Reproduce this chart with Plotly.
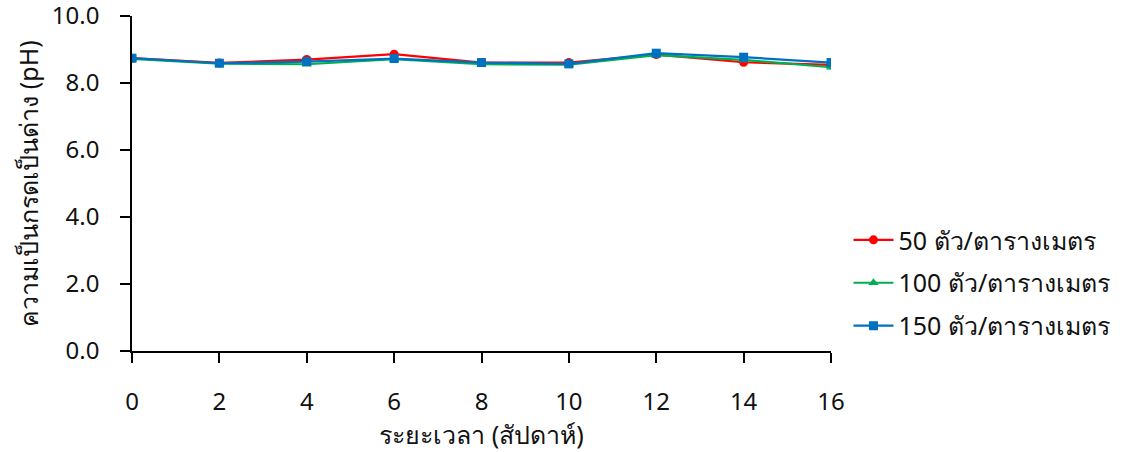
import plotly.graph_objects as go

weeks = [0, 2, 4, 6, 8, 10, 12, 14, 16]
ph_50 = [8.74, 8.60, 8.70, 8.86, 8.61, 8.61, 8.85, 8.62, 8.54]
ph_100 = [8.72, 8.58, 8.56, 8.71, 8.56, 8.55, 8.83, 8.69, 8.47]
ph_150 = [8.74, 8.59, 8.64, 8.73, 8.61, 8.57, 8.89, 8.77, 8.61]
y_ticks = [0, 2, 4, 6, 8, 10]
y_labels = ["0.0", "2.0", "4.0", "6.0", "8.0", "10.0"]
names = ["50 ตัว/ตารางเมตร", "100 ตัว/ตารางเมตร", "150 ตัว/ตารางเมตร"]
colors = ["#FF0000", "#00B050", "#0070C0"]
symbols = ["circle", "triangle-up", "square"]
legend_ids = ["legend", "legend2", "legend3"]
legend_y = [0.331, 0.203, 0.075]

font = "'Noto Sans', 'DejaVu Sans', sans-serif"
txt = "#111111"

fig = go.Figure()
for ys, n, c, s, lid in zip([ph_50, ph_100, ph_150], names, colors, symbols, legend_ids):
    fig.add_trace(go.Scatter(
        x=weeks, y=ys, name=n, mode="lines+markers",
        line=dict(color=c, width=2.2),
        marker=dict(symbol=s, size=9, color=c),
        legend=lid,
    ))

layout_legends = {}
for lid, ly in zip(legend_ids, legend_y):
    layout_legends[lid] = dict(x=1.025, y=ly, xanchor="left", yanchor="middle",
                               itemwidth=40,
                               font=dict(size=25, color=txt), bgcolor="rgba(0,0,0,0)")

fig.update_layout(
    width=1127, height=452,
    margin=dict(l=132, r=296, t=16, b=101),
    plot_bgcolor="white", paper_bgcolor="white",
    font=dict(family=font, size=24, color=txt),
    showlegend=True,
    **layout_legends,
)
fig.update_xaxes(
    range=[0, 16], tickvals=weeks, ticktext=[str(w) for w in weeks],
    showline=True, linecolor="black", linewidth=1.5,
    ticks="outside", ticklen=10, tickcolor="black", tickwidth=1.5,
    showgrid=False, zeroline=False, automargin=False,
    ticklabelstandoff=18, ticklabeloverflow="allow",
    title=dict(text="ระยะเวลา (สัปดาห์)", standoff=4, font=dict(size=25, color=txt)),
    tickfont=dict(size=24, color=txt),
)
fig.update_yaxes(
    range=[0, 10], tickvals=y_ticks, ticktext=y_labels,
    showline=True, linecolor="black", linewidth=1.5,
    ticks="outside", ticklen=10, tickcolor="black", tickwidth=1.5,
    showgrid=False, zeroline=False, automargin=False,
    ticklabelstandoff=16, ticklabeloverflow="allow",
    title=dict(text="ความเป็นกรดเป็นด่าง (pH)", standoff=6, font=dict(size=25, color=txt)),
    tickfont=dict(size=24, color=txt),
)

fig.write_html("out.html")
